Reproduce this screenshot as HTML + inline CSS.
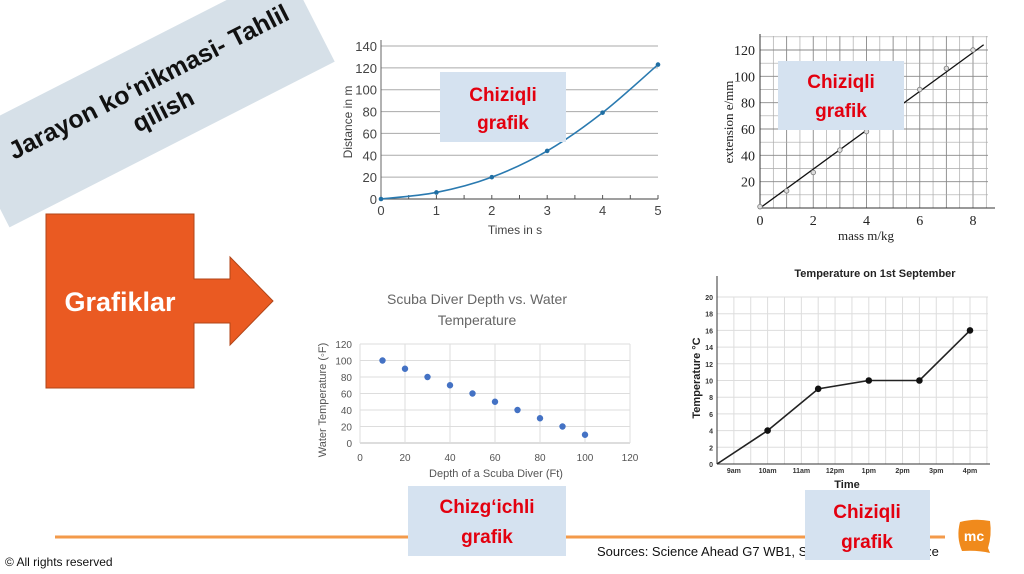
<!DOCTYPE html>
<html><head><meta charset="utf-8"><style>
html,body{margin:0;padding:0;background:#fff;}
svg{display:block;font-family:"Liberation Sans",sans-serif;}
</style></head><body>
<svg id="s" width="1024" height="574" viewBox="0 0 1024 574" xmlns="http://www.w3.org/2000/svg">
<g transform="translate(165,92) rotate(-27)">
  <rect x="-200" y="-54" width="365" height="104" fill="#d6e0e8"/>
  <text x="-10" y="-8" text-anchor="middle" font-size="25" font-weight="bold" fill="#111">Jarayon ko‘nikmasi- Tahlil</text>
  <text x="-10" y="24" text-anchor="middle" font-size="25" font-weight="bold" fill="#111">qilish</text>
</g>
<path d="M46,214H194V279H230V257L273,301L230,345V323H194V388H46Z" fill="#ea5a22" stroke="#b04518" stroke-width="1"/>
<text x="120" y="311" text-anchor="middle" font-size="27" font-weight="bold" fill="#fff">Grafiklar</text>
<g id="c1"></g>
<g id="c2"></g>
<g id="c3"></g>
<g id="c4"></g>
<line x1="55" y1="537" x2="945" y2="537" stroke="#f39a4a" stroke-width="3"/>
<g><rect x="440" y="72" width="126" height="70" fill="#d5e2f0"/>
<text x="503" y="101" text-anchor="middle" font-size="19" font-weight="bold" fill="#e3000f">Chiziqli</text><text x="503" y="129" text-anchor="middle" font-size="19" font-weight="bold" fill="#e3000f">grafik</text></g>
<g><rect x="778" y="61" width="126" height="69" fill="#d5e2f0"/>
<text x="841" y="88" text-anchor="middle" font-size="19" font-weight="bold" fill="#e3000f">Chiziqli</text><text x="841" y="117" text-anchor="middle" font-size="19" font-weight="bold" fill="#e3000f">grafik</text></g>
<text x="597" y="556" font-size="13" fill="#111">Sources: Science Ahead G7 WB1, Science Ahead G7 Wize</text>
<g><rect x="408" y="486" width="158" height="70" fill="#d5e2f0"/>
<text x="487" y="513" text-anchor="middle" font-size="19" font-weight="bold" fill="#e3000f">Chizg‘ichli</text><text x="487" y="543" text-anchor="middle" font-size="19" font-weight="bold" fill="#e3000f">grafik</text></g>
<g><rect x="805" y="490" width="125" height="70" fill="#d5e2f0"/>
<text x="867" y="518" text-anchor="middle" font-size="19" font-weight="bold" fill="#e3000f">Chiziqli</text><text x="867" y="548" text-anchor="middle" font-size="19" font-weight="bold" fill="#e3000f">grafik</text></g>
<text x="5" y="566" font-size="12" fill="#111">© All rights reserved</text>
<g><path d="M960,522Q975,518 990,521Q992,535 988,548L990,553Q978,550 962,551Q956,537 960,522Z" fill="#f08a1c"/>
<text x="974" y="541" text-anchor="middle" font-size="14" font-weight="bold" fill="#fff">mc</text></g>
</svg>
<script>
const NS="http://www.w3.org/2000/svg";
function el(p,t,a,txt){const e=document.createElementNS(NS,t);for(const k in a)e.setAttribute(k,a[k]);if(txt!==undefined)e.textContent=txt;p.appendChild(e);return e;}

// Chart 1 data
const c1Times=[0,1,2,3,4,5];
const c1Dist=[0,6,20,44,79,123];
const c1YTicks=[0,20,40,60,80,100,120,140];
// Chart 2 data
const c2Mass=[0,1,2,3,4,6,7,8];
const c2Ext=[1,13,27,44,58,90,106,120];
const c2FitX=[0,8.4];
const c2FitY=[0,124];
const c2XTicks=[0,2,4,6,8];
const c2YTicks=[20,40,60,80,100,120];
// Chart 3 data
const c3Depth=[10,20,30,40,50,60,70,80,90,100];
const c3Temp=[100,90,80,70,60,50,40,30,20,10];
const c3XTicks=[0,20,40,60,80,100,120];
const c3YTicks=[0,20,40,60,80,100,120];
// Chart 4 data
const c4Labels=["9am","10am","11am","12pm","1pm","2pm","3pm","4pm"];
const c4Hours=[8.5,10,11.5,13,14.5,16];
const c4Temps=[0,4,9,10,10,16];
const c4YTicks=[0,2,4,6,8,10,12,14,16,18,20];

// ---- Chart 1
(function(){
const g=document.getElementById('c1');
const x=v=>381+v*(658-381)/5, y=v=>199-v*(199-46)/140;
c1YTicks.forEach(t=>{const l=el(g,'line',{x1:381,x2:658,y1:y(t),y2:y(t),stroke:t===0?'#666':'#aaa','stroke-width':t===0?1.2:1});

const tx=el(g,'text',{x:377,y:y(t)+5,'text-anchor':'end','font-size':13,fill:'#444'},t);
});
el(g,'line',{x1:381,x2:381,y1:40,y2:199,stroke:'#666'});
for(let i=0;i<=10;i++){el(g,'line',{x1:x(i/2),x2:x(i/2),y1:199,y2:195,stroke:'#555'});}
c1Times.forEach(t=>{const tx=el(g,'text',{x:x(t),y:215,'text-anchor':'middle','font-size':13,fill:'#444'},t);
});
const at=el(g,'text',{x:515,y:234,'text-anchor':'middle','font-size':12,fill:'#444'},'Times in s');

const yt=el(g,'text',{transform:'translate(352,122) rotate(-90)','text-anchor':'middle','font-size':12,fill:'#444'},'Distance in m');

let d='M'+x(c1Times[0])+','+y(c1Dist[0]);
for(let i=1;i<c1Times.length;i++){const x0=x(c1Times[i-1]),y0=y(c1Dist[i-1]),x1=x(c1Times[i]),y1=y(c1Dist[i]);
const p=i>1?[x(c1Times[i-2]),y(c1Dist[i-2])]:[x0,y0];const n=i<c1Times.length-1?[x(c1Times[i+1]),y(c1Dist[i+1])]:[x1,y1];
d+=` C${x0+(x1-p[0])/6},${y0+(y1-p[1])/6} ${x1-(n[0]-x0)/6},${y1-(n[1]-y0)/6} ${x1},${y1}`;}
const ln=el(g,'path',{d:d,fill:'none',stroke:'#2a7ab0','stroke-width':1.6});

c1Times.forEach((t,i)=>{const c=el(g,'circle',{cx:x(t),cy:y(c1Dist[i]),r:2.3,fill:'#1f6ea3'});
});
})();

// ---- Chart 2
(function(){
const g=document.getElementById('c2');
const x=v=>760+v*(973-760)/8, y=v=>208-v*(208-50)/120;
for(let i=0;i<=8.5*2;i++){const xv=x(i/2);el(g,'line',{x1:xv,x2:xv,y1:36,y2:208,stroke:i%2?'#aaa':'#888','stroke-width':i%2?0.7:0.9});}
for(let i=0;i<=13;i++){const yv=y(i*10);el(g,'line',{x1:760,x2:988,y1:yv,y2:yv,stroke:i%2?'#aaa':'#888','stroke-width':i%2?0.7:0.9});}
el(g,'line',{x1:760,x2:760,y1:34,y2:208,stroke:'#333'});
el(g,'line',{x1:760,x2:995,y1:208,y2:208,stroke:'#333'});
c2XTicks.forEach(t=>{const tx=el(g,'text',{x:x(t),y:225,'text-anchor':'middle','font-size':14,fill:'#222','font-family':'Liberation Serif,serif'},t);
});
c2YTicks.forEach(t=>{const tx=el(g,'text',{x:755,y:y(t)+5,'text-anchor':'end','font-size':14,fill:'#222','font-family':'Liberation Serif,serif'},t);
});
const at=el(g,'text',{x:866,y:240,'text-anchor':'middle','font-size':13,fill:'#222','font-family':'Liberation Serif,serif'},'mass m/kg');

const yt=el(g,'text',{transform:'translate(733,122) rotate(-90)','text-anchor':'middle','font-size':13,fill:'#222','font-family':'Liberation Serif,serif'},'extension e/mm');

const fl=el(g,'line',{x1:x(c2FitX[0]),y1:y(c2FitY[0]),x2:x(c2FitX[1]),y2:y(c2FitY[1]),stroke:'#111','stroke-width':1.3});

c2Mass.forEach((m,i)=>{const c=el(g,'circle',{cx:x(m),cy:y(c2Ext[i]),r:2.3,fill:'#ddd',stroke:'#777','stroke-width':0.8});
});
})();

// ---- Chart 3
(function(){
const g=document.getElementById('c3');
const x=v=>360+v*(630-360)/120, y=v=>443-v*(443-344)/120;
c3YTicks.forEach(t=>{el(g,'line',{x1:360,x2:630,y1:y(t),y2:y(t),stroke:t===0?'#bbb':'#ddd'});
const tx=el(g,'text',{x:352,y:y(t)+4,'text-anchor':'end','font-size':10,fill:'#555'},t);
});
c3XTicks.forEach(t=>{el(g,'line',{x1:x(t),x2:x(t),y1:344,y2:443,stroke:'#ddd'});
const tx=el(g,'text',{x:x(t),y:461,'text-anchor':'middle','font-size':10,fill:'#555'},t);
});
const t1=el(g,'text',{x:477,y:304,'text-anchor':'middle','font-size':14,fill:'#666'},'Scuba Diver Depth vs. Water');

const t2=el(g,'text',{x:477,y:325,'text-anchor':'middle','font-size':14,fill:'#666'},'Temperature');

const at=el(g,'text',{x:496,y:477,'text-anchor':'middle','font-size':11,fill:'#555'},'Depth of a Scuba Diver (Ft)');

const yt=el(g,'text',{transform:'translate(326,400) rotate(-90)','text-anchor':'middle','font-size':11,fill:'#555'},'Water Temperature (◦F)');

c3Depth.forEach((d,i)=>{const c=el(g,'circle',{cx:x(d),cy:y(c3Temp[i]),r:3.2,fill:'#4472c4'});
});
})();

// ---- Chart 4
(function(){
const g=document.getElementById('c4');
const x=h=>717+(h-8.5)*(970-717)/7.5, y=v=>464-v*(464-297)/20;
for(let i=1;i<=16;i++){const xv=717+i*(970-717)/15;el(g,'line',{x1:xv,x2:xv,y1:297,y2:464,stroke:'#ddd'});}
c4YTicks.forEach(t=>{el(g,'line',{x1:717,x2:988,y1:y(t),y2:y(t),stroke:'#ddd'});
const tx=el(g,'text',{x:713,y:y(t)+3,'text-anchor':'end','font-size':7,'font-weight':'bold',fill:'#333'},t);
});
el(g,'line',{x1:717,x2:717,y1:276,y2:464,stroke:'#333'});
el(g,'line',{x1:717,x2:990,y1:464,y2:464,stroke:'#333'});
c4Labels.forEach((l,i)=>{const tx=el(g,'text',{x:x(9+i),y:473,'text-anchor':'middle','font-size':7,'font-weight':'bold',fill:'#333'},l);
});
const tt=el(g,'text',{x:875,y:277,'text-anchor':'middle','font-size':11,'font-weight':'bold',fill:'#222'},'Temperature on 1st September');

const at=el(g,'text',{x:847,y:488,'text-anchor':'middle','font-size':11,'font-weight':'bold',fill:'#222'},'Time');

const yt=el(g,'text',{transform:'translate(700,378) rotate(-90)','text-anchor':'middle','font-size':11,'font-weight':'bold',fill:'#222'},'Temperature °C');

const pl=el(g,'polyline',{points:c4Hours.map((h,i)=>x(h)+','+y(c4Temps[i])).join(' '),fill:'none',stroke:'#222','stroke-width':1.6});

c4Hours.forEach((h,i)=>{if(i===0)return;const c=el(g,'circle',{cx:x(h),cy:y(c4Temps[i]),r:3.3,fill:'#111'});
});
})();
</script>
</body></html>
